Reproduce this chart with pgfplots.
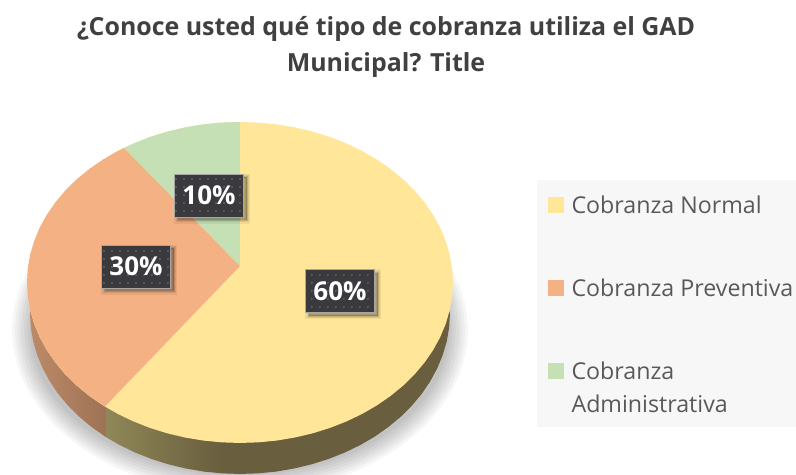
\documentclass[border=0pt]{standalone}
\usepackage{fontspec}
\setmainfont{Open Sans}
\usepackage{pgfplots}
\pgfplotsset{compat=1.18}
\usepackage{pgfplotstable}
\usetikzlibrary{patterns.meta}

\definecolor{slYellow}{HTML}{FFE699}
\definecolor{slPeach}{HTML}{F4B183}
\definecolor{slGreen}{HTML}{C5E0B4}
\definecolor{boxDark}{HTML}{3A3A3E}
\definecolor{sidePeachL}{HTML}{BB8A68}
\definecolor{sidePeachR}{HTML}{9F7255}
\definecolor{sideYellowL}{HTML}{8F8757}
\definecolor{sideYellowR}{HTML}{695E3E}

% points round the unit circle, 5 degree steps
\pgfplotstableread{
c s
1.0000 0.0000
0.9962 0.0872
0.9848 0.1736
0.9659 0.2588
0.9397 0.3420
0.9063 0.4226
0.8660 0.5000
0.8192 0.5736
0.7660 0.6428
0.7071 0.7071
0.6428 0.7660
0.5736 0.8192
0.5000 0.8660
0.4226 0.9063
0.3420 0.9397
0.2588 0.9659
0.1736 0.9848
0.0872 0.9962
0.0000 1.0000
-0.0872 0.9962
-0.1736 0.9848
-0.2588 0.9659
-0.3420 0.9397
-0.4226 0.9063
-0.5000 0.8660
-0.5736 0.8192
-0.6428 0.7660
-0.7071 0.7071
-0.7660 0.6428
-0.8192 0.5736
-0.8660 0.5000
-0.9063 0.4226
-0.9397 0.3420
-0.9659 0.2588
-0.9848 0.1736
-0.9962 0.0872
-1.0000 0.0000
-0.9962 -0.0872
-0.9848 -0.1736
-0.9659 -0.2588
-0.9397 -0.3420
-0.9063 -0.4226
-0.8660 -0.5000
-0.8192 -0.5736
-0.7660 -0.6428
-0.7071 -0.7071
-0.6428 -0.7660
-0.5736 -0.8192
-0.5000 -0.8660
-0.4226 -0.9063
-0.3420 -0.9397
-0.2588 -0.9659
-0.1736 -0.9848
-0.0872 -0.9962
0.0000 -1.0000
0.0872 -0.9962
0.1736 -0.9848
0.2588 -0.9659
0.3420 -0.9397
0.4226 -0.9063
0.5000 -0.8660
0.5736 -0.8192
0.6428 -0.7660
0.7071 -0.7071
0.7660 -0.6428
0.8192 -0.5736
0.8660 -0.5000
0.9063 -0.4226
0.9397 -0.3420
0.9659 -0.2588
0.9848 -0.1736
0.9962 -0.0872
}\unitcircle

\begin{document}
\begin{tikzpicture}
\begin{axis}[
    scale only axis,
    width=597pt, height=356.25pt,
    xmin=0, xmax=796, ymin=0, ymax=475,
    y dir=reverse,
    hide axis,
    title={¿Conoce usted qué tipo de cobranza utiliza el GAD\\Municipal? Title},
    title style={at={(0.485,1)}, anchor=north, yshift=-15pt, align=center,
        font=\fontsize{18.7}{26.5}\selectfont\bfseries, text=black!75},
    legend style={at={(0.6885,0.5937)}, anchor=north west, draw=none, fill=none,
        font=\fontsize{17.4}{25}\selectfont, text=black!65,
        cells={anchor=west}, row sep=43.5pt, inner sep=0pt},
    legend image code/.code={\fill[#1] (0pt,-5.5pt) rectangle (12pt,6.5pt); \path (15.5pt,0pt);},
]
% page and legend panel
\addplot[fill=white, draw=none, forget plot] coordinates {(0,0) (796,0) (796,475) (0,475)};
\addplot[fill=black!3, draw=none, forget plot] coordinates {(537,180) (796,180) (796,427) (537,427)};

% soft shadow under the pie
\pgfplotsinvokeforeach{-12,-9,-6,-3,0,3,6}{
  \addplot[fill=black, fill opacity=0.035, draw=none, forget plot]
    table[x expr={240+(222+#1)*\thisrow{c}}, y expr={330+(158+#1)*\thisrow{s}}] {\unitcircle};
}

% sides
\addplot[draw=none, left color=sidePeachL, right color=sidePeachR, forget plot]
  coordinates {(106.4,395) (106.4,437.4) (105,436.5) (91.5,427) (79.1,416.7) (68,405.6) (58.1,393.8) (49.7,381.3) (42.7,368.4) (37.2,355) (33.2,341.4) (30.8,327.5) (30,313.5) (40,285)};
\addplot[draw=none, left color=sideYellowL, right color=sideYellowR, forget plot]
  coordinates {(106.4,395) (106.4,437.4) (119.5,445) (135,452.5) (151.3,459) (168.2,464.3) (185.6,468.5) (203.5,471.6) (221.7,473.4) (221.7,395)};
\addplot[draw=none, fill=sideYellowR, forget plot]
  coordinates {(221.2,395) (221.2,473.4) (240,474) (258.3,473.4) (276.5,471.6) (294.4,468.5) (311.8,464.3) (328.7,459) (345,452.5) (360.5,445) (375,436.5) (388.5,427) (400.9,416.7) (412,405.6) (421.9,393.8) (430.3,381.3) (437.3,368.4) (442.8,355) (446.8,341.4) (449.2,327.5) (450,313.5) (440,285)};

% top face
\addplot[fill=slYellow, draw=none]
  table[x expr={240+213*\thisrow{c}}, y expr={282.5+160.5*\thisrow{s}}] {\unitcircle};
\addlegendentry{Cobranza Normal}
\addplot[fill=slPeach, draw=none]
  coordinates {(240,266) (124,147.9) (117.8,151) (103.1,159.6) (89.4,169) (76.8,179.3) (65.5,190.4) (55.5,202.3) (47,214.7) (39.8,227.6) (34.3,241) (30.2,254.6) (27.8,268.5) (27,282.5) (27.8,296.5) (30.2,310.4) (34.3,324) (39.8,337.4) (47,350.3) (55.5,362.7) (65.5,374.6) (76.8,385.7) (89.4,396) (103.1,405.4) (105,406.5)};
\addlegendentry{Cobranza Preventiva}
\addplot[fill=slGreen, draw=none]
  coordinates {(240,266) (240,122) (221.4,122.6) (203,124.4) (184.9,127.5) (167.2,131.7) (150,137) (133.5,143.5) (124,147.9)};
\addlegendentry{\parbox[t]{150pt}{\fontsize{17.4}{25}\selectfont Cobranza\\Administrativa}}

% percentage labels
\addplot[only marks, mark=none, forget plot,
    point meta=explicit symbolic,
    nodes near coords,
    nodes near coords style={anchor=center, inner sep=0pt, text=white,
        font=\fontsize{19.5}{22}\selectfont\bfseries,
        minimum width=52pt, minimum height=32.5pt, fill=boxDark,
        draw=black!35, line width=0.3pt,
        preaction={fill=black, draw=black, line width=5pt, opacity=0.06, transform canvas={xshift=2.5pt, yshift=-2.5pt}},
        preaction={fill=black, draw=black, line width=3pt, opacity=0.08, transform canvas={xshift=2.5pt, yshift=-2.5pt}},
        preaction={fill=black, draw=black, line width=1pt, opacity=0.12, transform canvas={xshift=2.5pt, yshift=-2.5pt}},
        postaction={pattern={Dots[distance=6pt, radius=0.6pt]}, pattern color=white!30!boxDark}},
] coordinates {(340,291) [60\%] (136,266.5) [30\%] (209,195.5) [10\%]};
\end{axis}
\end{tikzpicture}
\end{document}
